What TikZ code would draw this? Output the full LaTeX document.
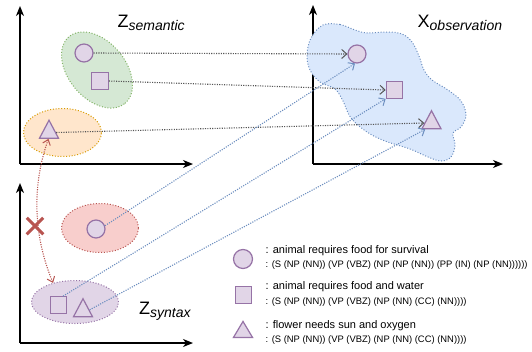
\documentclass[tikz,border=0pt]{standalone}
\usepackage{fontspec}
\setmainfont{Liberation Sans}
\usetikzlibrary{shapes.geometric,shapes.misc,arrows.meta}
\definecolor{shfill}{HTML}{E1D5E7}
\definecolor{shdraw}{HTML}{9673A6}
\definecolor{gfill}{HTML}{D5E8D4}
\definecolor{gdraw}{HTML}{82B366}
\definecolor{ofill}{HTML}{FFE6CC}
\definecolor{odraw}{HTML}{D79B00}
\definecolor{rfill}{HTML}{F8CECC}
\definecolor{rdraw}{HTML}{B85450}
\definecolor{bfill}{HTML}{DAE8FC}
\definecolor{bdraw}{HTML}{6C8EBF}
\definecolor{ggray}{HTML}{555555}
\begin{document}
\begin{tikzpicture}[x=1pt,y=-1pt,
  shp/.style={fill=shfill, draw=shdraw, line width=1.2pt, inner sep=0pt},
  circ/.style={shp, circle, minimum size=18pt},
  sq/.style={shp, rectangle, minimum size=16.5pt},
  tri/.style={shp, isosceles triangle, isosceles triangle stretches, shape border rotate=90, minimum width=19pt, minimum height=18pt},
  blob/.style={ellipse, inner sep=0pt, dash pattern=on 1pt off 1.8pt, line width=1pt},
  gline/.style={draw=ggray, dash pattern=on 1.1pt off 1.3pt, line width=1.1pt, -{Straight Barb[length=5pt,width=9pt,line width=1pt]}},
  bline/.style={draw=bdraw, dash pattern=on 1.1pt off 1.3pt, line width=1.1pt, -{Straight Barb[length=5pt,width=9pt,line width=1pt]}},
  rline/.style={draw=rdraw, dash pattern=on 1.1pt off 1.3pt, line width=1.1pt, {Straight Barb[length=5pt,width=8pt,line width=1pt]}-{Straight Barb[length=5pt,width=8pt,line width=1pt]}},
  axis/.style={line width=1.3pt, -{Stealth[length=10pt,width=8pt,inset=3pt]}},
  lbl/.style={anchor=base west, inner sep=0pt},
  big/.style={font=\fontsize{18}{18}\selectfont},
  leg/.style={anchor=base west, inner sep=0pt, font=\fontsize{11}{11}\selectfont},
  legs/.style={anchor=base west, inner sep=0pt, font=\fontsize{9.4}{9.4}\selectfont}
]
\useasboundingbox (0,0) rectangle (532,351);

% axes
\coordinate (o1) at (20,164); \coordinate (y1) at (20,6); \coordinate (x1) at (193,164);
\coordinate (o2) at (313,164); \coordinate (y2) at (313,5); \coordinate (x2) at (503,164);
\coordinate (o3) at (20,343); \coordinate (y3) at (20,183); \coordinate (x3) at (193,343);
\draw[axis] (o1) -- (y1); \draw[axis] (o1) -- (x1);
\draw[axis] (o2) -- (y2); \draw[axis] (o2) -- (x2);
\draw[axis] (o3) -- (y3); \draw[axis] (o3) -- (x3);

% labels
\node[lbl,big] (lsem) at (117.5,27) {Z\raisebox{-3.5pt}{\fontsize{14}{14}\selectfont\itshape semantic}};
\node[lbl,big] (lobs) at (417.5,27) {X\raisebox{-3.5pt}{\fontsize{14}{14}\selectfont\itshape observation}};
\node[lbl,big] (lsyn) at (139,314) {Z\raisebox{-3.5pt}{\fontsize{14}{14}\selectfont\itshape syntax}};

% clusters
\node[blob, fill=gfill, draw=gdraw, minimum width=87pt, minimum height=57pt, rotate=-50] (ge) at (97,70) {};
\node[blob, fill=ofill, draw=odraw, minimum width=78pt, minimum height=48pt] (oe) at (62.5,132.5) {};
\node[blob, fill=rfill, draw=rdraw, minimum width=77pt, minimum height=49pt] (re) at (100,228) {};
\node[blob, fill=shfill, draw=shdraw, minimum width=87pt, minimum height=43pt] (pe) at (75,302) {};
\path[fill=bfill, draw=bdraw, dash pattern=on 1pt off 1.8pt, line width=1pt]
  plot[smooth cycle, tension=0.6] coordinates {(323,25) (340,24.5) (355,30) (367,33) (387,32) (402,34) (412,42) (419,56) (424,70) (432,80) (448,90) (461,101) (466,115) (461,127) (453,133) (455,145) (451,157) (441,161) (428,157) (410,149) (385,141) (367,132) (351,118) (343,101) (335,89) (320,82) (310,70) (307,55) (311,38)};

% shapes
\node[circ] (zc) at (84,53) {};
\node[sq] (zs) at (100,81) {};
\node[tri] (zt) at (49,132.5) {};
\node[circ] (xc) at (357,54) {};
\node[sq] (xs) at (394.5,90) {};
\node[tri] (xt) at (431.5,123) {};
\node[circ] (rc) at (96,229) {};
\node[sq] (ps) at (58.5,305) {};
\node[tri] (pt) at (83,311) {};

% connectors
\draw[gline] (zc.east) -- (xc.west);
\draw[gline] (zs.east) -- (xs.west);
\draw[gline] (zt.0) -- (xt.180);
\draw[bline] (rc.20) -- (xc.258);
\draw[bline] (ps.63) -- (xs.south west);
\draw[bline] (pt.10) -- (xt.225);
\draw[rline] (zt.265) .. controls (32,185) and (33,235) .. (pe.139);
\node[cross out, draw=rdraw, line width=3pt, minimum size=13.5pt, inner sep=0pt] (xx) at (35,226) {};

% legend
\node[circ, minimum size=19pt] (lc) at (243,259) {};
\node[sq] (ls) at (243.5,295) {};
\node[tri, minimum height=16pt] (lt) at (243,332) {};
\node[leg] (t1) at (265.5,253) {: animal requires food for survival};
\node[legs] (t2) at (265.5,267.3) {: (S (NP (NN)) (VP (VBZ) (NP (NP (NN)) (PP (IN) (NP (NN))))))};
\node[leg] (t3) at (265.5,289.8) {: animal requires food and water};
\node[legs] (t4) at (265.5,304.7) {: (S (NP (NN)) (VP (VBZ) (NP (NN) (CC) (NN))))};
\node[leg] (t5) at (265.5,328.6) {: flower needs sun and oxygen};
\node[legs] (t6) at (265.5,342.7) {: (S (NP (NN)) (VP (VBZ) (NP (NN) (CC) (NN))))};
\end{tikzpicture}
\end{document}
